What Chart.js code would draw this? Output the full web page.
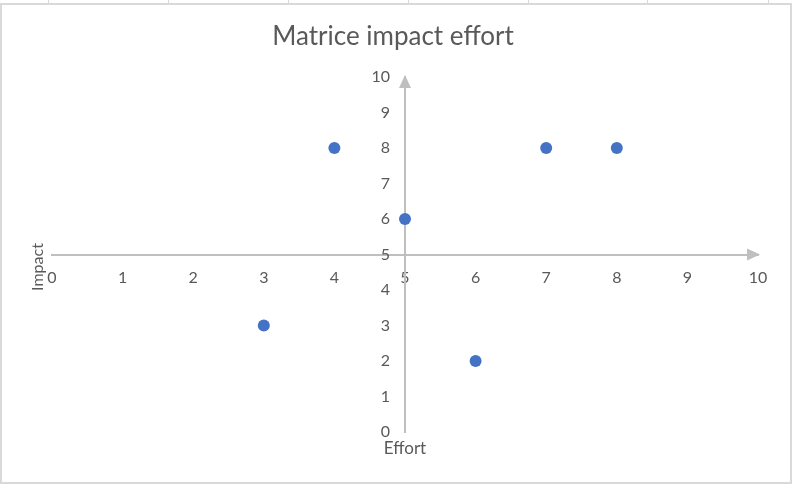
<!DOCTYPE html>
<html>
<head>
<meta charset="utf-8">
<script src="https://cdn.jsdelivr.net/npm/chart.js@4"></script>
<style>
  body{ margin:0; background:#fff; }
  #wrap{ position:relative; width:792px; height:484px; }
  #frame{ position:absolute; left:0; top:3px; width:792px; height:481px; box-sizing:border-box; border:2px solid #d9d9d9; pointer-events:none; }
  .cell{ position:absolute; top:0; width:1px; height:3px; background:#d9d9d9; }
  canvas{ position:absolute; left:0; top:0; }
</style>
</head>
<body>
<div id="wrap">
  <div class="cell" style="left:48px"></div>
  <div class="cell" style="left:168px"></div>
  <div class="cell" style="left:288px"></div>
  <div class="cell" style="left:408px"></div>
  <div class="cell" style="left:528px"></div>
  <div class="cell" style="left:647px"></div>
  <div class="cell" style="left:768px"></div>
  <div id="frame"></div>
  <canvas id="c" width="792" height="484"></canvas>
</div>
<script>
// effort (x) / impact (y) for each item
const effort = [3, 4, 5, 6, 7, 8];
const impact = [3, 8, 6, 2, 8, 8];
const title = 'Matrice impact effort';
const xTitle = 'Effort';
const yTitle = 'Impact';

const FONT = 'Lato, "Open Sans", sans-serif';
const GREY = '#bfbfbf';
const TXT = '#595959';

const points = effort.map((e,i)=>({x:e, y:impact[i]}));

// arrows on axis ends, y tick labels (chart.js ignores padding for them here) + titles
const decor = {
  id:'decor',
  afterDraw(chart){
    const ctx = chart.ctx, xs = chart.scales.x, ys = chart.scales.y;
    const ax = xs.getPixelForValue(5), ay = ys.getPixelForValue(5);
    const xEnd = xs.getPixelForValue(10), yEnd = ys.getPixelForValue(10);
    ctx.save();
    ctx.fillStyle = GREY;
    // up arrow
    ctx.beginPath();
    ctx.moveTo(ax, yEnd - 2);
    ctx.lineTo(ax - 6, yEnd + 11);
    ctx.lineTo(ax + 6, yEnd + 11);
    ctx.closePath(); ctx.fill();
    // right arrow
    ctx.beginPath();
    ctx.moveTo(xEnd + 2, ay);
    ctx.lineTo(xEnd - 11, ay - 6);
    ctx.lineTo(xEnd - 11, ay + 6);
    ctx.closePath(); ctx.fill();

    ctx.fillStyle = TXT;
    ctx.font = '16px ' + FONT;
    ctx.textAlign = 'right'; ctx.textBaseline = 'middle';
    ys.ticks.forEach(t=>{
      ctx.fillText(String(t.value), ax - 15, ys.getPixelForValue(t.value));
    });

    ctx.textAlign = 'center';
    ctx.font = '26px ' + FONT;
    ctx.fillText(title, 393, 37);
    ctx.font = '17px ' + FONT;
    ctx.fillText(xTitle, ax, 449);
    ctx.font = '16px ' + FONT;
    ctx.translate(38, 267); ctx.rotate(-Math.PI/2);
    ctx.fillText(yTitle, 0, 0);
    ctx.restore();
  }
};

new Chart(document.getElementById('c'), {
  type:'scatter',
  data:{ datasets:[{
    data: points,
    backgroundColor:'#4472c4',
    borderWidth:0,
    pointRadius:6,
    pointHoverRadius:6
  }]},
  options:{
    responsive:false,
    animation:false,
    layout:{ padding:{left:52, right:34, top:77, bottom:52} },
    plugins:{ legend:{display:false}, tooltip:{enabled:false} },
    scales:{
      x:{
        type:'linear', min:0, max:10, position:{y:5},
        grid:{display:false, drawTicks:false},
        border:{display:true, color:GREY, width:2},
        ticks:{stepSize:1, color:TXT, padding:14, font:{family:FONT, size:16}}
      },
      y:{
        type:'linear', min:0, max:10, position:{x:5},
        grid:{display:false, drawTicks:false},
        border:{display:true, color:GREY, width:2},
        ticks:{display:false, stepSize:1}
      }
    }
  },
  plugins:[decor]
});
</script>
</body>
</html>
